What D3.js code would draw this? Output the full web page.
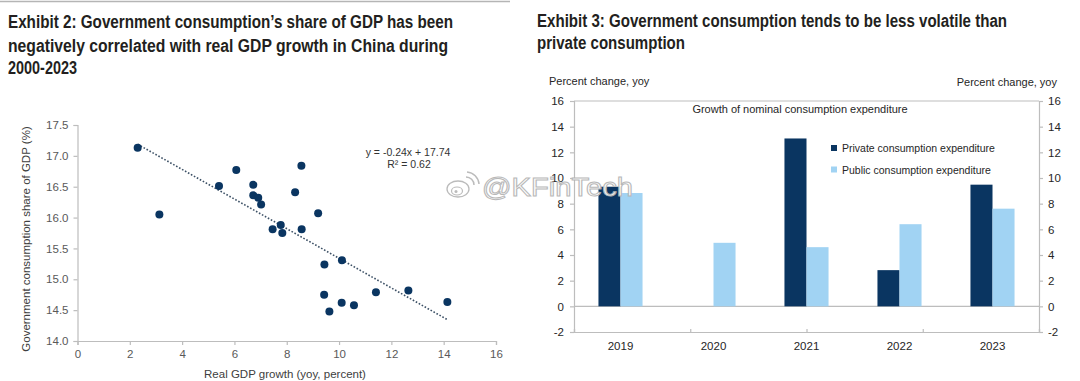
<!DOCTYPE html>
<html>
<head>
<meta charset="utf-8">
<script src="https://cdn.jsdelivr.net/npm/d3@7/dist/d3.min.js"></script>
<style>
  html, body { margin: 0; padding: 0; background: #fff; }
  svg { display: block; }
  .title { font-family: "Liberation Sans Narrow", "Arial Narrow", "Liberation Sans", Arial, sans-serif; font-weight: bold; font-size: 17.5px; fill: #231f20; }
  .lbl { font-family: "Liberation Sans", Arial, sans-serif; }
</style>
</head>
<body>
<svg id="chart" width="1080" height="381"></svg>
<script>
// ---------- Data: Exhibit 2 (scatter) ----------
const gdpGrowth = [2.30, 3.13, 5.41, 6.07, 6.72, 6.72, 6.91, 7.02, 8.56, 8.32, 9.20, 7.46,
                   7.77, 7.83, 8.57, 9.44, 10.11, 9.43, 9.63, 10.10, 10.57, 11.41, 12.65, 14.14];
const govShare  = [17.13, 16.05, 16.51, 16.77, 16.53, 16.36, 16.32, 16.21, 16.84, 16.41, 16.07, 15.81,
                   15.88, 15.75, 15.81, 15.24, 15.31, 14.75, 14.48, 14.62, 14.58, 14.79, 14.82, 14.63];
const trendSlope = -0.24;
const trendIntercept = 17.74;
const trendLabel = "y = -0.24x + 17.74";
const r2Label = "R\u00b2 = 0.62";
const scatterXTicks = [0, 2, 4, 6, 8, 10, 12, 14, 16];
const scatterYTicks = [14.0, 14.5, 15.0, 15.5, 16.0, 16.5, 17.0, 17.5];

// ---------- Data: Exhibit 3 (bars) ----------
const years = ["2019", "2020", "2021", "2022", "2023"];
const seriesNames = ["Private consumption expenditure", "Public consumption expenditure"];
const privateGrowth = [9.32, null, 13.08, 2.82, 9.48];
const publicGrowth  = [8.83, 4.95, 4.61, 6.40, 7.61];
const barYTicks = [-2, 0, 2, 4, 6, 8, 10, 12, 14, 16];

const svg = d3.select("#chart");
const darkBlue = "#0a3561";
const lightBlue = "#a1d3f3";
const axisGray = "#bdbdbd";
const intFmt = d => String(d);

// ---------- Titles ----------
svg.append("line").attr("x1", 0).attr("x2", 510).attr("y1", 1.5).attr("y2", 1.5)
  .attr("stroke", "#b5b5b5").attr("stroke-width", 1.5);

const titles = [
  {t: "Exhibit 2: Government consumption\u2019s share of GDP has been", x: 8, y: 28, w: 445},
  {t: "negatively correlated with real GDP growth in China during", x: 8, y: 51.5, w: 440},
  {t: "2000-2023", x: 8, y: 74, w: 69},
  {t: "Exhibit 3: Government consumption tends to be less volatile than", x: 537, y: 27, w: 470},
  {t: "private consumption", x: 537, y: 48.5, w: 148}
];
titles.forEach(d => {
  svg.append("text").attr("class", "title").attr("x", d.x).attr("y", d.y)
    .attr("textLength", d.w).attr("lengthAdjust", "spacingAndGlyphs").text(d.t);
});

// ---------- Exhibit 2: scatter ----------
const sx = d3.scaleLinear().domain([0, 16]).range([77.5, 496]);
const sy = d3.scaleLinear().domain([14, 17.5]).range([341, 125]);

const sxAxis = svg.append("g").attr("transform", "translate(0,341)")
  .call(d3.axisBottom(sx).tickValues(scatterXTicks).tickSize(4).tickPadding(5).tickFormat(intFmt));
const syAxis = svg.append("g").attr("transform", "translate(77.5,0)")
  .call(d3.axisLeft(sy).tickValues(scatterYTicks).tickSize(4).tickPadding(5).tickFormat(d => d.toFixed(1)));
[sxAxis, syAxis].forEach(g => {
  g.selectAll("path, line").attr("stroke", axisGray).attr("stroke-width", 1.2);
  g.selectAll("text").attr("class", "lbl").attr("font-size", "11.5px").attr("fill", "#595959");
});

svg.append("text").attr("class", "lbl").attr("x", 285).attr("y", 377.5)
  .attr("text-anchor", "middle").attr("font-size", "11.5px").attr("fill", "#404040")
  .text("Real GDP growth (yoy, percent)");
svg.append("text").attr("class", "lbl")
  .attr("transform", "translate(30,239) rotate(-90)")
  .attr("text-anchor", "middle").attr("font-size", "11.5px").attr("fill", "#404040")
  .text("Government consumption share of GDP (%)");

// trendline
const xMin = d3.min(gdpGrowth), xMax = d3.max(gdpGrowth);
svg.append("line")
  .attr("x1", sx(xMin)).attr("y1", sy(trendSlope * xMin + trendIntercept))
  .attr("x2", sx(xMax)).attr("y2", sy(trendSlope * xMax + trendIntercept))
  .attr("stroke", "#3d5166").attr("stroke-width", 1.6).attr("stroke-dasharray", "1.6,1.8");

// points
svg.append("g").selectAll("circle").data(gdpGrowth.map((g, i) => [g, govShare[i]]))
  .join("circle")
  .attr("cx", d => sx(d[0])).attr("cy", d => sy(d[1])).attr("r", 4)
  .attr("fill", darkBlue);

svg.append("text").attr("class", "lbl").attr("x", 408).attr("y", 155.5)
  .attr("text-anchor", "middle").attr("font-size", "10.5px").attr("fill", "#333").text(trendLabel);
svg.append("text").attr("class", "lbl").attr("x", 409).attr("y", 168)
  .attr("text-anchor", "middle").attr("font-size", "10.5px").attr("fill", "#333").text(r2Label);

// ---------- Exhibit 3: bars ----------
const bx0 = d3.scaleBand().domain(years).range([574, 1039]).padding(0);
const bx1 = d3.scaleBand().domain(seriesNames).range([0, bx0.bandwidth()]).paddingInner(0).paddingOuter(1.11);
const by = d3.scaleLinear().domain([-2, 16]).range([332, 101]);

// frame top
svg.append("line").attr("x1", 574).attr("x2", 1039).attr("y1", by(16)).attr("y2", by(16))
  .attr("stroke", axisGray).attr("stroke-width", 1);
// zero line
svg.append("line").attr("x1", 574).attr("x2", 1039).attr("y1", by(0)).attr("y2", by(0))
  .attr("stroke", axisGray).attr("stroke-width", 1.2);

const barData = [];
years.forEach((y, i) => {
  barData.push({year: y, s: seriesNames[0], v: privateGrowth[i], c: darkBlue});
  barData.push({year: y, s: seriesNames[1], v: publicGrowth[i], c: lightBlue});
});
svg.append("g").selectAll("rect").data(barData.filter(d => d.v !== null))
  .join("rect")
  .attr("x", d => bx0(d.year) + bx1(d.s))
  .attr("width", bx1.bandwidth())
  .attr("y", d => by(Math.max(0, d.v)))
  .attr("height", d => Math.abs(by(d.v) - by(0)))
  .attr("fill", d => d.c);

const byLeft = svg.append("g").attr("transform", "translate(574,0)")
  .call(d3.axisLeft(by).tickValues(barYTicks).tickSize(4).tickPadding(6).tickFormat(intFmt));
const byRight = svg.append("g").attr("transform", "translate(1039,0)")
  .call(d3.axisRight(by).tickValues(barYTicks).tickSize(4).tickPadding(5).tickFormat(intFmt));
[byLeft, byRight].forEach(g => {
  g.selectAll("path, line").attr("stroke", axisGray).attr("stroke-width", 1.2);
  g.selectAll("text").attr("class", "lbl").attr("font-size", "11.5px").attr("fill", "#262626");
});

// bottom axis at -2 with quarter ticks
const bxLin = d3.scaleLinear().domain([0, 4]).range([574, 1039]);
const bottomAxis = svg.append("g").attr("transform", `translate(0,${by(-2)})`)
  .call(d3.axisBottom(bxLin).ticks(4).tickSize(-3).tickFormat(""));
bottomAxis.selectAll("path, line").attr("stroke", axisGray).attr("stroke-width", 1.2);

svg.append("g").selectAll("text").data(years).join("text")
  .attr("class", "lbl").attr("x", d => bx0(d) + bx0.bandwidth() / 2).attr("y", 350)
  .attr("text-anchor", "middle").attr("font-size", "11.5px").attr("fill", "#262626").text(d => d);

svg.append("text").attr("class", "lbl").attr("x", 549).attr("y", 85)
  .attr("font-size", "11px").attr("fill", "#262626").text("Percent change, yoy");
svg.append("text").attr("class", "lbl").attr("x", 1057).attr("y", 86)
  .attr("text-anchor", "end").attr("font-size", "11px").attr("fill", "#262626").text("Percent change, yoy");

svg.append("text").attr("class", "lbl").attr("x", 800).attr("y", 113)
  .attr("text-anchor", "middle").attr("font-size", "11px").attr("fill", "#262626")
  .text("Growth of nominal consumption expenditure");

// legend
const legend = svg.append("g").selectAll("g").data(seriesNames).join("g")
  .attr("transform", (d, i) => `translate(831,${148 + i * 21.5})`);
legend.append("rect").attr("x", 0).attr("y", -3).attr("width", 6).attr("height", 6)
  .attr("fill", (d, i) => i === 0 ? darkBlue : lightBlue);
legend.append("text").attr("class", "lbl").attr("x", 11).attr("y", 4)
  .attr("font-size", "10.5px").attr("fill", "#262626").text(d => d);

// ---------- Watermark ----------
const wm = svg.append("g").attr("opacity", 0.95);
wm.append("ellipse").attr("cx", 458).attr("cy", 189).attr("rx", 11).attr("ry", 8)
  .attr("fill", "#fff").attr("stroke", "#b8b8b8").attr("stroke-width", 1.3);
wm.append("ellipse").attr("cx", 457).attr("cy", 191).attr("rx", 5.5).attr("ry", 4)
  .attr("fill", "none").attr("stroke", "#b8b8b8").attr("stroke-width", 1.2);
wm.append("circle").attr("cx", 456).attr("cy", 191.5).attr("r", 1.5).attr("fill", "#b8b8b8");
wm.append("path").attr("d", "M466,177 A8,8 0 0 1 474,185").attr("fill", "none").attr("stroke", "#b8b8b8").attr("stroke-width", 1.5);
wm.append("path").attr("d", "M467,172 A13,13 0 0 1 479,184").attr("fill", "none").attr("stroke", "#b8b8b8").attr("stroke-width", 1.5);
wm.append("text").attr("class", "lbl").attr("x", 482).attr("y", 196)
  .attr("font-size", "25px").attr("fill", "#ffffff").attr("stroke", "#b5b5b5").attr("stroke-width", 1)
  .attr("textLength", 151).attr("lengthAdjust", "spacingAndGlyphs")
  .text("@KFinTech");
</script>
</body>
</html>
